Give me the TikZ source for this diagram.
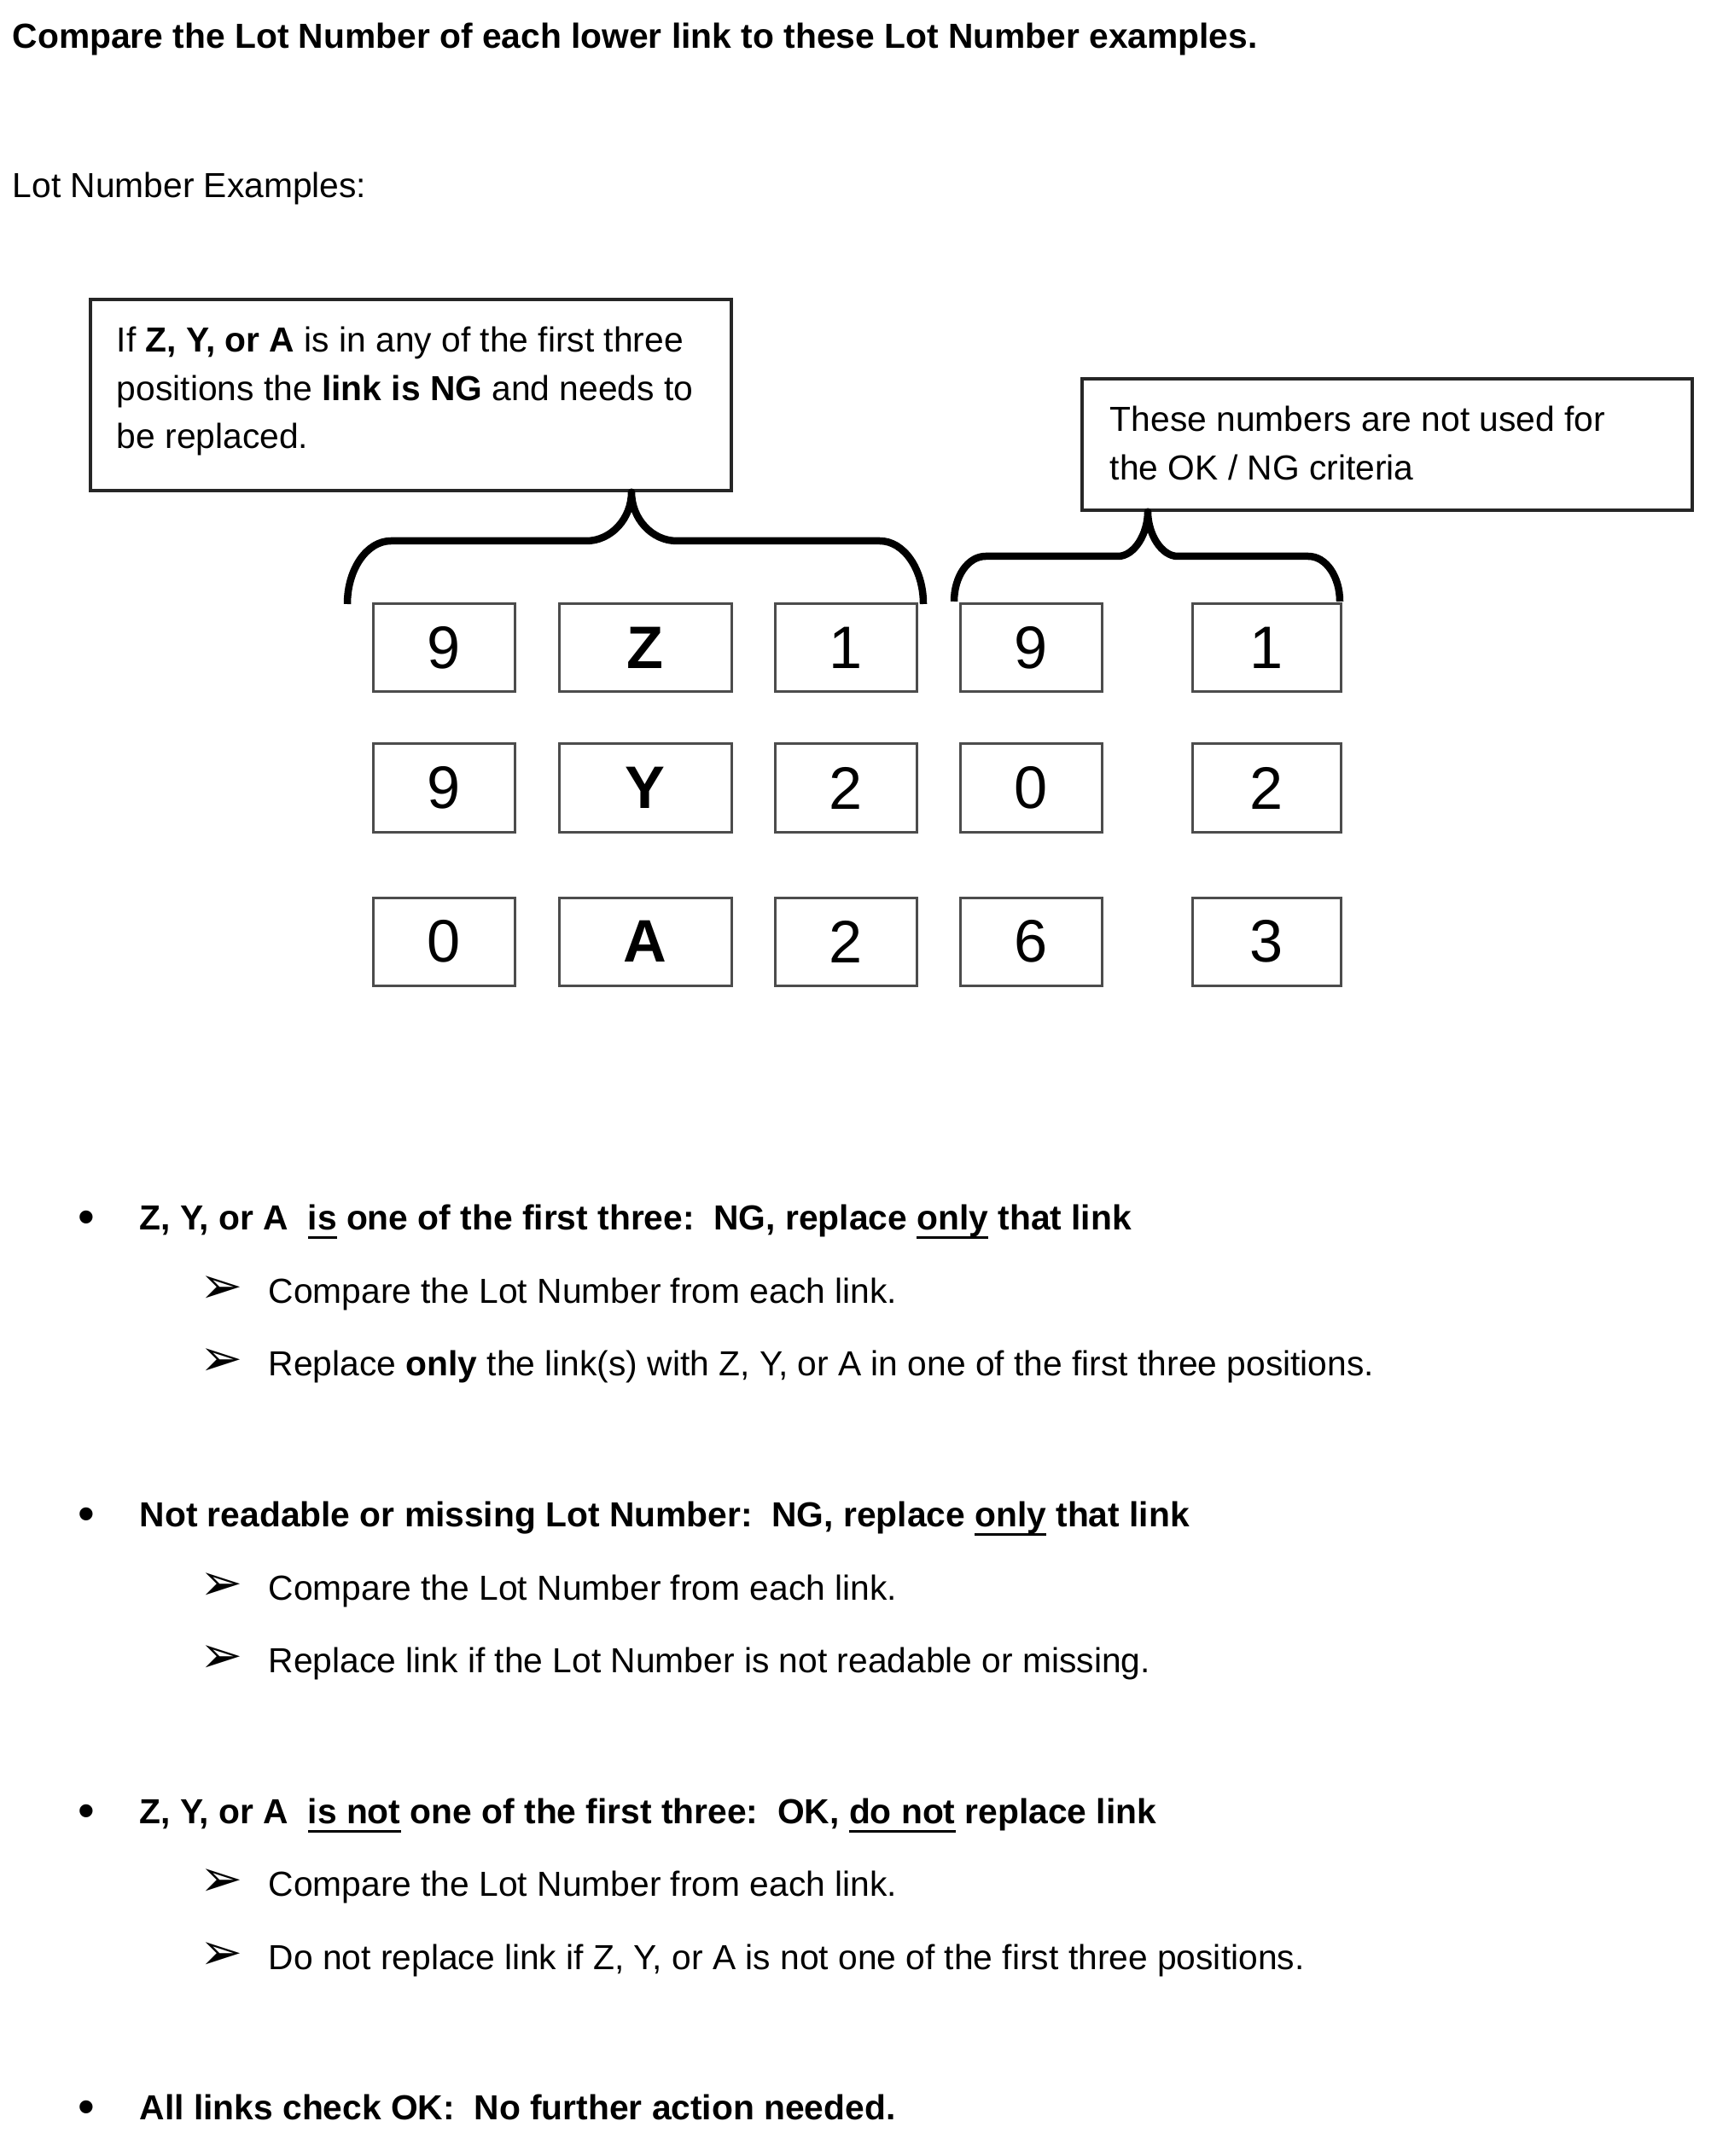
\documentclass[tikz,border=0pt]{standalone}
\usepackage{fontspec}
\setmainfont{Liberation Sans}
\newfontfamily\symfont{DejaVu Sans}
\usetikzlibrary{positioning,calc}
\newcommand{\lottext}{\fontsize{11.6pt}{16.1pt}\selectfont}
\newcommand{\lotbig}{\fontsize{20pt}{24pt}\selectfont}
\newcommand{\lotul}[1]{\setbox0\hbox{#1}\rlap{\rule[-1.1mm]{\wd0}{0.3mm}}\box0\relax}
\tikzset{
  lotbox/.style  = {draw=black!70, line width=0.3mm, minimum width=16.6mm,
                    minimum height=10.3mm, inner sep=0pt, font=\lotbig},
  wide/.style    = {minimum width=20.2mm},
  mid/.style     = {minimum width=17.4mm},
  callout/.style = {draw=black!85, line width=0.35mm, inner sep=0pt},
  note/.style    = {align=left, inner sep=0pt, font=\lottext, anchor=north west},
  brace/.style   = {line width=0.85mm, line join=round},
  head/.style    = {anchor=base west, inner sep=0pt, font=\lottext\bfseries},
  item/.style    = {anchor=base west, inner sep=0pt, font=\lottext},
  bul/.style     = {anchor=base, inner sep=0pt, yshift=-0.4mm,
                    font=\fontsize{16pt}{16pt}\selectfont},
  arr/.style     = {anchor=base, inner sep=0pt, font=\symfont\fontsize{17pt}{17pt}\selectfont},
}
\begin{document}
\begin{tikzpicture}
  \useasboundingbox (0,0) rectangle (20.11,-25.27);
  % heading
  \node[head] (title) at (0.14,-0.57) {Compare the Lot Number of each lower link to these Lot Number examples.};
  \node[item] (ex) at (0.14,-2.32) {Lot Number Examples:};
  % callouts
  \node[callout, minimum width=75.1mm, minimum height=22.4mm] (lbox) at (4.815,-4.63) {};
  \node[note] (ltxt) at ($(lbox.north west)+(0.32,-0.33)$)
    {If \textbf{Z, Y, or A} is in any of the first three\\
     positions the \textbf{link is NG} and needs to\\
     be replaced.};
  \node[callout, minimum width=71.5mm, minimum height=15.4mm] (rbox) at (16.255,-5.21) {};
  \node[note] (rtxt) at ($(rbox.north west)+(0.34,-0.33)$)
    {These numbers are not used for\\
     the OK / NG criteria};
  % lot number boxes
  \node[lotbox] (d11) at (5.20,-7.595) {9};
  \node[lotbox,wide] (d12) at (7.56,-7.595) {\textbf{Z}};
  \node[lotbox] (d13) at (9.915,-7.595) {1};
  \node[lotbox] (d14) at (12.085,-7.595) {9};
  \node[lotbox,mid] (d15) at (14.84,-7.595) {1};
  \node[lotbox] (d21) at (5.20,-9.235) {9};
  \node[lotbox,wide] (d22) at (7.56,-9.235) {\textbf{Y}};
  \node[lotbox] (d23) at (9.915,-9.235) {2};
  \node[lotbox] (d24) at (12.085,-9.235) {0};
  \node[lotbox,mid] (d25) at (14.84,-9.235) {2};
  \node[lotbox] (d31) at (5.20,-11.035) {0};
  \node[lotbox,wide] (d32) at (7.56,-11.035) {\textbf{A}};
  \node[lotbox] (d33) at (9.915,-11.035) {2};
  \node[lotbox] (d34) at (12.085,-11.035) {6};
  \node[lotbox,mid] (d35) at (14.84,-11.035) {3};
  % braces up to the callouts
  \draw[brace] (4.07,-7.08) .. controls (4.07,-6.67) and (4.30,-6.34) .. (4.58,-6.34)
    -- (6.87,-6.34) .. controls (7.16,-6.34) and (7.40,-6.08) .. (lbox.south -| 7.40,0)
    .. controls (7.40,-6.08) and (7.64,-6.34) .. (7.93,-6.34)
    -- (10.31,-6.34) .. controls (10.59,-6.34) and (10.82,-6.67) .. (10.82,-7.08);
  \draw[brace] (11.18,-7.05) .. controls (11.18,-6.76) and (11.34,-6.52) .. (11.55,-6.52)
    -- (13.10,-6.52) .. controls (13.29,-6.52) and (13.45,-6.26) .. (rbox.south -| 13.45,0)
    .. controls (13.45,-6.26) and (13.61,-6.52) .. (13.80,-6.52)
    -- (15.33,-6.52) .. controls (15.54,-6.52) and (15.70,-6.76) .. (15.70,-7.05);
  % rules
  \node[bul] (b1) at (1.01,-14.41) {•};
  \node[head] (h1) at (1.63,-14.41) {Z, Y, or A\ \ \lotul{is} one of the first three:\ \ NG, replace \lotul{only} that link};
  \node[arr] (a11) at (2.60,-15.27) {➢};
  \node[item] (t11) at (3.14,-15.27) {Compare the Lot Number from each link.};
  \node[arr] (a12) at (2.60,-16.12) {➢};
  \node[item] (t12) at (3.14,-16.12) {Replace \textbf{only} the link(s) with Z, Y, or A in one of the first three positions.};
  \node[bul] (b2) at (1.01,-17.89) {•};
  \node[head] (h2) at (1.63,-17.89) {Not readable or missing Lot Number:\ \ NG, replace \lotul{only} that link};
  \node[arr] (a21) at (2.60,-18.75) {➢};
  \node[item] (t21) at (3.14,-18.75) {Compare the Lot Number from each link.};
  \node[arr] (a22) at (2.60,-19.60) {➢};
  \node[item] (t22) at (3.14,-19.60) {Replace link if the Lot Number is not readable or missing.};
  \node[bul] (b3) at (1.01,-21.37) {•};
  \node[head] (h3) at (1.63,-21.37) {Z, Y, or A\ \ \lotul{is not} one of the first three:\ \ OK, \lotul{do not} replace link};
  \node[arr] (a31) at (2.60,-22.22) {➢};
  \node[item] (t31) at (3.14,-22.22) {Compare the Lot Number from each link.};
  \node[arr] (a32) at (2.60,-23.08) {➢};
  \node[item] (t32) at (3.14,-23.08) {Do not replace link if Z, Y, or A is not one of the first three positions.};
  \node[bul] (b4) at (1.01,-24.84) {•};
  \node[head] (h4) at (1.63,-24.84) {All links check OK:\ \ No further action needed.};
\end{tikzpicture}
\end{document}
